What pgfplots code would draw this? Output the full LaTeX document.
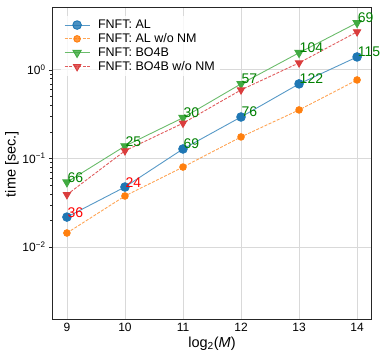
\documentclass[border=0pt]{standalone}
\usepackage{pgfplots}
\pgfplotsset{compat=1.18}
\usepackage{fontspec}
\setmainfont{Liberation Sans}
\definecolor{cblue}{HTML}{1F77B4}
\definecolor{corange}{HTML}{FF7F0E}
\definecolor{cgreen}{HTML}{2CA02C}
\definecolor{cred}{HTML}{D62728}
\definecolor{lblgreen}{HTML}{008000}

\begin{document}
\begin{tikzpicture}
\begin{axis}[
  scale only axis,
  width=318pt, height=312pt,
  ymode=log,
  xmin=8.76, xmax=14.24,
  ymin=0.0015, ymax=5,
  xtick={9,...,14},
  ytick={0.01,0.1,1},
  yticklabels={10\textsuperscript{−2}, 10\textsuperscript{−1}, 10\textsuperscript{0}},
  /pgf/number format/assume math mode=true,
  grid=major,
  grid style={black!15, line width=0.8pt},
  axis line style={black!85, line width=1pt},
  tick style={black!85},
  xtick style={draw=none},
  ytick pos=left,
  ytick align=outside,
  minor y tick num=8,
  major tick length=4pt, minor tick length=2.5pt,
  tick label style={font=\fontsize{12}{14}\selectfont},
  xlabel={log\textsubscript{2}(\textit{M})},
  ylabel={time [sec.]},
  label style={font=\fontsize{14.5}{16}\selectfont},
  xlabel style={yshift=2pt},
  ylabel style={yshift=-3pt},
  legend style={at={(0.025,0.975)}, anchor=north west, draw=none, fill=white,
    fill opacity=0.8, text opacity=1, font=\fontsize{12.5}{14}\selectfont,
    row sep=-0.5pt},
  legend image code/.code={
    \draw[mark repeat=2, mark phase=2] plot coordinates {(0pt,0pt) (12.5pt,0pt) (25pt,0pt)};},
  legend cell align=left,
  clip=false,
]
\addplot[cblue!75, line width=0.9pt, mark=*, mark size=4.3pt, mark options={solid, fill=cblue, draw=cblue}]
  coordinates {(9,0.0218) (10,0.0476) (11,0.128) (12,0.294) (13,0.695) (14,1.40)};
\addplot[corange!70, dashed, dash pattern=on 3pt off 1.5pt, line width=0.9pt, mark=*, mark size=3.3pt, mark options={solid, fill=corange, draw=corange}]
  coordinates {(9,0.0144) (10,0.0377) (11,0.080) (12,0.175) (13,0.353) (14,0.77)};
\addplot[cgreen!70, line width=0.9pt, mark=triangle*, mark size=4.7pt, mark options={solid, rotate=180, fill=cgreen!90, draw=cgreen!90}]
  coordinates {(9,0.054) (10,0.138) (11,0.288) (12,0.695) (13,1.56) (14,3.4)};
\addplot[cred!75, dashed, dash pattern=on 3pt off 1.5pt, line width=0.9pt, mark=triangle*, mark size=4.2pt, mark options={solid, rotate=180, fill=cred!90, draw=cred!90}]
  coordinates {(9,0.039) (10,0.122) (11,0.25) (12,0.594) (13,1.2) (14,2.69)};
\legend{\hspace{6pt}FNFT: AL, \hspace{6pt}FNFT: AL w/o NM, \hspace{6pt}FNFT: BO4B, \hspace{6pt}FNFT: BO4B w/o NM}

% iteration counts (annotations)
\addplot[draw=none, forget plot, nodes near coords, point meta=explicit symbolic,
  every node near coord/.style={anchor=base west, inner sep=0.5pt, text=lblgreen, font=\fontsize{14}{16}\selectfont}]
  coordinates {(9,0.054)[66] (10,0.138)[25] (11,0.288)[30] (12,0.695)[57] (13,1.56)[104] (14,3.4)[69]
               (11,0.128)[69] (12,0.294)[76] (13,0.695)[122] (14,1.40)[115]};
\addplot[draw=none, forget plot, nodes near coords, point meta=explicit symbolic,
  every node near coord/.style={anchor=base west, inner sep=0.5pt, text=red, font=\fontsize{14}{16}\selectfont}]
  coordinates {(9,0.0218)[36] (10,0.0476)[24]};
\end{axis}
\path ([xshift=-53pt,yshift=-41pt]current axis.south west) rectangle ([xshift=15pt,yshift=8pt]current axis.north east);
\end{tikzpicture}
\end{document}
